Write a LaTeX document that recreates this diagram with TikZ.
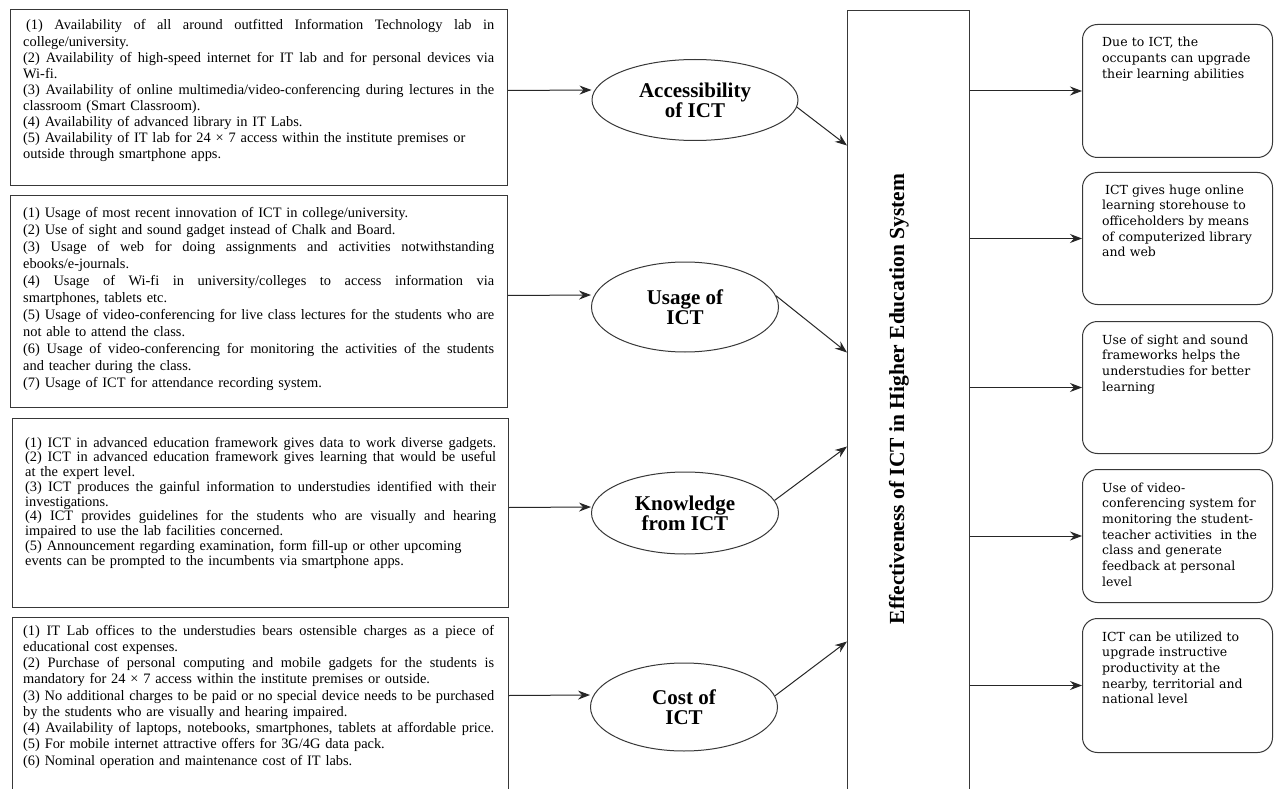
\documentclass[tikz,border=0pt]{standalone}
\usepackage{fontspec}
\setmainfont{Liberation Serif}
\newfontfamily\rfont{DejaVu Serif}
\usetikzlibrary{shapes.geometric,arrows.meta}
\newlength\jlw
\setlength\jlw{471pt}
\newcommand{\jl}[1]{\leavevmode\hbox to \jlw{\spaceskip=0.25em plus 2em minus 0.05em\relax #1}}
\begin{document}
\begin{tikzpicture}[x=1pt,y=-1pt,
  line/.style={draw=black!78, line width=1pt},
  arr/.style={draw=black!85, line width=1pt, -{Stealth[length=12pt,width=9pt,inset=4pt]}},
  lbox/.style={line, rectangle, inner sep=0pt, anchor=north west},
  ltext/.style={anchor=base west, inner sep=0pt, align=left, text width=471pt},
  rbox/.style={line, rectangle, rounded corners=15pt, inner sep=0pt, anchor=north west, minimum width=190pt},
  rtext/.style={anchor=base west, inner sep=0pt, align=left, text width=168pt, font=\rfont\fontsize{12.5}{15.7}\selectfont},
  ell/.style={line, ellipse, inner sep=0pt, align=center, font=\bfseries\fontsize{21}{20}\selectfont}
]
\useasboundingbox (0,0) rectangle (1275,789);
\fill[white] (0,0) rectangle (1275,789);
\clip (0,0) rectangle (1275,789);

% left boxes
\node[lbox, minimum width=497pt, minimum height=176pt] (B1) at (10,9) {};
\node[lbox, minimum width=497pt, minimum height=212pt] (B2) at (10,195) {};
\node[lbox, minimum width=496pt, minimum height=189pt] (B3) at (12,418) {};
\node[lbox, minimum width=496pt, minimum height=183pt] (B4) at (12,617) {};

\node[ltext, font=\fontsize{14.4}{16.1}\selectfont] (T1) at (23,30) {%
\jl{\hspace{3pt}(1) Availability of all around outfitted Information Technology lab in}\\
college/university.\\
\jl{(2) Availability of high-speed internet for IT lab and for personal devices via}\\
Wi-fi.\\
\jl{(3) Availability of online multimedia/video-conferencing during lectures in the}\\
classroom (Smart Classroom).\\
(4) Availability of advanced library in IT Labs.\\
(5) Availability of IT lab for 24 × 7 access within the institute premises or\\
outside through smartphone apps.};

\node[ltext, font=\fontsize{14.4}{17}\selectfont] (T2) at (23,218) {%
(1) Usage of most recent innovation of ICT in college/university.\\
(2) Use of sight and sound gadget instead of Chalk and Board.\\
\jl{(3) Usage of web for doing assignments and activities notwithstanding}\\
ebooks/e-journals.\\
\jl{(4) Usage of Wi-fi in university/colleges to access information via}\\
smartphones, tablets etc.\\
\jl{(5) Usage of video-conferencing for live class lectures for the students who are}\\
not able to attend the class.\\
\jl{(6) Usage of video-conferencing for monitoring the activities of the students}\\
and teacher during the class.\\
(7) Usage of ICT for attendance recording system.};

\node[ltext, font=\fontsize{14.4}{14.75}\selectfont] (T3) at (25,447) {%
\jl{(1) ICT in advanced education framework gives data to work diverse gadgets.}\\
\jl{(2) ICT in advanced education framework gives learning that would be useful}\\
at the expert level.\\
\jl{(3) ICT produces the gainful information to understudies identified with their}\\
investigations.\\
\jl{(4) ICT provides guidelines for the students who are visually and hearing}\\
impaired to use the lab facilities concerned.\\
(5) Announcement regarding examination, form fill-up or other upcoming\\
events can be prompted to the incumbents via smartphone apps.};

\node[ltext, font=\fontsize{14.4}{16.25}\selectfont] (T4) at (23,635) {%
\jl{(1) IT Lab offices to the understudies bears ostensible charges as a piece of}\\
educational cost expenses.\\
\jl{(2) Purchase of personal computing and mobile gadgets for the students is}\\
mandatory for 24 × 7 access within the institute premises or outside.\\
\jl{(3) No additional charges to be paid or no special device needs to be purchased}\\
by the students who are visually and hearing impaired.\\
\jl{(4) Availability of laptops, notebooks, smartphones, tablets at affordable price.}\\
(5) For mobile internet attractive offers for 3G/4G data pack.\\
(6) Nominal operation and maintenance cost of IT labs.};

% ellipses
\node[ell, minimum width=206pt, minimum height=81pt] (E1) at (695,100) {Accessibility\\of ICT};
\node[ell, minimum width=187pt, minimum height=90pt] (E2) at (685,307) {Usage of\\ICT};
\node[ell, minimum width=187pt, minimum height=82pt] (E3) at (685,513) {Knowledge\\from ICT};
\node[ell, minimum width=187pt, minimum height=88pt] (E4) at (684,707) {Cost of\\ICT};

% central box
\node[lbox, minimum width=122pt, minimum height=790pt] (C) at (847,10) {};
\node[rotate=90, inner sep=0pt, font=\bfseries\fontsize{21.5}{24}\selectfont] (CT) at (899,399) {Effectiveness of ICT in Higher Education System};

% right boxes
\node[rbox, minimum height=133pt] (R1) at (1082,24) {};
\node[rbox, minimum height=132pt] (R2) at (1082,172) {};
\node[rbox, minimum height=132pt] (R3) at (1082,321) {};
\node[rbox, minimum height=133pt] (R4) at (1082,469) {};
\node[rbox, minimum height=134pt] (R5) at (1082,618) {};

\node[rtext] (RT1) at (1102,47) {Due to ICT, the\\occupants can upgrade\\their learning abilities};
\node[rtext] (RT2) at (1102,194) {\hspace{3pt}ICT gives huge online\\learning storehouse to\\officeholders by means\\of computerized library\\and web};
\node[rtext] (RT3) at (1102,344) {Use of sight and sound\\frameworks helps the\\understudies for better\\learning};
\node[rtext] (RT4) at (1102,492) {Use of video-\\conferencing system for\\monitoring the student-\\teacher activities \ in the\\class and generate\\feedback at personal\\level};
\node[rtext] (RT5) at (1102,641) {ICT can be utilized to\\upgrade instructive\\productivity at the\\nearby, territorial and\\national level};

% connectors: boxes to ellipses
\draw[arr] ([yshift=7pt]B1.east) -- ([yshift=10pt]E1.west);
\draw[arr] ([yshift=6pt]B2.east) -- ([yshift=12pt]E2.west);
\draw[arr] ([yshift=5.5pt]B3.east) -- ([yshift=6pt]E3.west);
\draw[arr] ([yshift=13.5pt]B4.east) -- ([yshift=12pt]E4.west);

% ellipses to central box
\draw[arr] (E1.-4) -- ([yshift=260pt]C.west);
\draw[arr] (E2.7) -- ([yshift=53pt]C.west);
\draw[arr] (E3.8) -- ([yshift=-41pt]C.west);
\draw[arr] (E4.7) -- ([yshift=-236pt]C.west);

% central box to outcomes
\draw[arr] (C.east |- R1.west) -- (R1.west);
\draw[arr] (C.east |- R2.west) -- (R2.west);
\draw[arr] (C.east |- R3.west) -- (R3.west);
\draw[arr] (C.east |- R4.west) -- (R4.west);
\draw[arr] (C.east |- R5.west) -- (R5.west);
\end{tikzpicture}
\end{document}
